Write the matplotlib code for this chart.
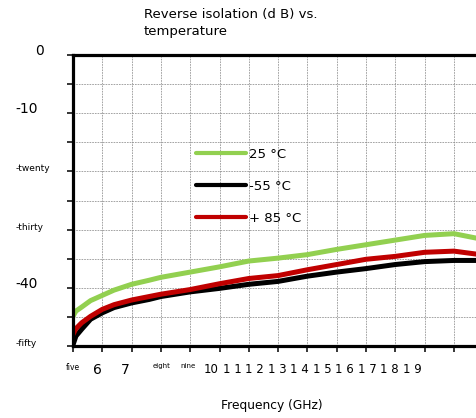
import matplotlib
matplotlib.use("Agg")
import matplotlib.pyplot as plt

# Reverse isolation (dB), per temperature
freq = [5.0, 5.1, 5.3, 5.6, 6.0, 6.4, 7.0, 7.6, 8.0, 9.0, 10, 11, 12, 13, 14, 15, 16, 17, 18, 18.9]
iso_25 = [-44.9, -44.0, -43.3, -42.2, -41.3, -40.4, -39.4, -38.7, -38.2, -37.3, -36.4,
          -35.4, -34.9, -34.3, -33.4, -32.6, -31.8, -31.0, -30.7, -31.6]
iso_m55 = [-49.8, -48.3, -47.1, -45.4, -44.3, -43.4, -42.6, -42.0, -41.5, -40.7, -40.1,
           -39.4, -38.9, -38.0, -37.3, -36.7, -36.0, -35.5, -35.3, -35.3]
iso_85 = [-48.0, -47.0, -46.0, -44.9, -43.7, -42.9, -42.1, -41.5, -41.1, -40.3, -39.3,
          -38.4, -37.9, -36.9, -36.0, -35.1, -34.6, -33.9, -33.7, -34.3]

series_names = ["25 °C", "-55 °C", "+ 85 °C"]
series_colors = ["#92D050", "#000000", "#C00000"]

y_ticks = [0, -5, -10, -15, -20, -25, -30, -35, -40, -45, -50]
y_labels = ["0", "", "-10", "", "-twenty", "", "-thirty", "", "-40", "", "-fifty"]
y_label_sizes = [10, 7, 10, 7, 6.5, 7, 6.5, 7, 10, 7, 6.5]

x_ticks = list(range(5, 19))
x_labels = ["five", "6", "7", "eight", "nine", "10", "1 1", "1 2", "1 3", "1 4",
            "1 5", "1 6", "1 7", "1 8", "1 9"]
x_label_pos = [5.0, 5.83, 6.78, 8.03, 8.94, 9.73, 10.43, 11.2, 11.97, 12.73,
               13.5, 14.27, 15.04, 15.81, 16.57]
x_label_sizes = [5.5, 10, 10, 5, 5, 8.5, 8.5, 8.5, 8.5, 8.5, 8.5, 8.5, 8.5, 8.5, 8.5]

W, H = 477, 418
fig = plt.figure(figsize=(W / 100, H / 100), dpi=100)
ax = fig.add_axes([73 / W, (H - 346) / H, 407.3 / W, 291 / H])

for ys, name, col in zip([iso_25, iso_m55, iso_85], series_names, series_colors):
    ax.plot(freq, ys, color=col, lw=3.6, label=name, solid_capstyle="round")

ax.set_xlim(5, 18.9)
ax.set_ylim(-50, 0)

# grid + tick marks on whole units, labels sit on their own (minor) positions
ax.xaxis.remove_overlapping_locs = False
ax.set_xticks(x_ticks)
ax.set_xticklabels([""] * len(x_ticks))
ax.set_xticks(x_label_pos, minor=True)
ax.set_xticklabels(x_labels, minor=True)
ax.set_yticks(y_ticks)
ax.set_yticklabels(y_labels)

ax.set_axisbelow(True)
ax.grid(True, which="major", color="#8c8c8c", linestyle=(0, (2.2, 1.3)), linewidth=0.55)

ax.tick_params(axis="both", which="major", direction="out", length=4.3, width=1.1,
               top=False, right=False, colors="black")
ax.tick_params(axis="x", which="minor", length=0, pad=12.3)

for side in ["left", "bottom", "top"]:
    ax.spines[side].set_linewidth(2.3)
ax.spines["right"].set_visible(False)

for lbl, size in zip(ax.get_xticklabels(minor=True), x_label_sizes):
    lbl.set_fontsize(size)

for tick, size in zip(ax.yaxis.get_major_ticks(), y_label_sizes):
    tick.set_pad(23 if tick.label1.get_text() == "0" else 37.4)
    tick.label1.set_fontsize(size)
    tick.label1.set_ha("left")
    tick.label1.set_va("baseline")

ax.set_xlabel("Frequency (GHz)", fontsize=8.8)
ax.xaxis.set_label_coords(0.487, -0.182)

fig.text(144 / W, 1 - 8 / H, "Reverse isolation (d B) vs.\ntemperature",
         ha="left", va="top", fontsize=9.5, linespacing=1.35)

leg = ax.legend(loc="upper left", bbox_to_anchor=(196 / W, 1 - 148 / H),
                bbox_transform=fig.transFigure, frameon=False, fontsize=9.5,
                handlelength=3.8, handletextpad=0.25, labelspacing=1.44,
                borderpad=0, borderaxespad=0)
for handle in leg.get_lines():
    handle.set_linewidth(3.0)

fig.savefig("out.png", dpi=100)
